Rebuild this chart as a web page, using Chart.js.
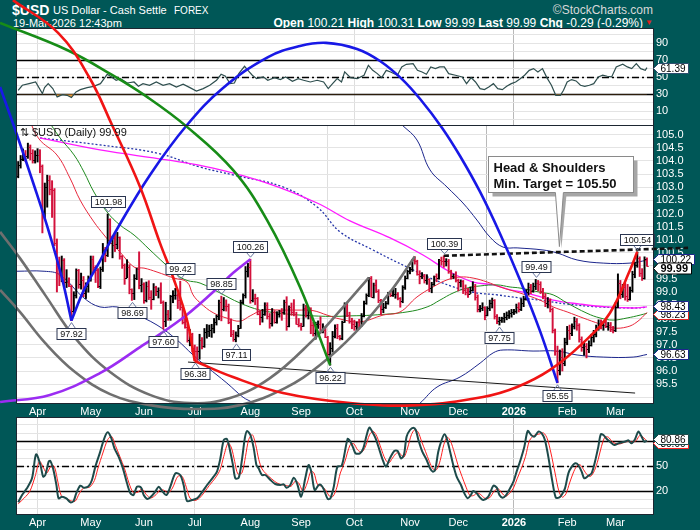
<!DOCTYPE html>
<html lang="en">
<head>
    <meta charset="UTF-8">
    <title>$USD US Dollar - Cash Settle</title>
    <script src="https://cdn.jsdelivr.net/npm/chart.js"></script>
    <style>
        body { margin: 0; background: #005757; overflow: hidden; }
        #page { position: relative; width: 700px; height: 530px; overflow: hidden; background: #005757;
                font-family: "Liberation Sans", Arial, sans-serif; color: #fff; }
        #page canvas { position: absolute; left: 0; top: 0; }
        .hdr { position: absolute; white-space: nowrap; line-height: 1; }
    </style>
</head>
<body>
<div id="page">
    <div class="hdr" style="left:12px; top:3px; font-size:14px; font-weight:bold;">$USD</div>
    <div class="hdr" style="left:53px; top:5px; font-size:11px;">US Dollar - Cash Settle</div>
    <div class="hdr" style="left:174px; top:6px; font-size:10px;">FOREX</div>
    <div class="hdr" style="right:47px; top:4px; font-size:12px; color:#d8d8d8;">©StockCharts.com</div>
    <div class="hdr" style="left:13px; top:18px; font-size:11px;">19-Mar-2026 12:43pm</div>
    <div class="hdr" style="right:57px; top:17px; font-size:12px;"><b>Open</b> 100.21 <b>High</b> 100.31 <b>Low</b> 99.99 <b>Last</b> 99.99 <b>Chg</b> -0.29 (-0.29%)</div>
    <div class="hdr" style="left:645px; top:19px; font-size:8px; color:#e02020;">▼</div>
    <canvas id="rsi-chart" width="700" height="530"></canvas>
    <canvas id="stoch-chart" width="700" height="530"></canvas>
    <canvas id="price-chart" width="700" height="530"></canvas>
</div>
<script>
    // daily bars, 20-Mar-2025 .. 19-Mar-2026 (one per weekday)
    const opens = [
        103.44,103.85,104.09,104.26,104.20,104.55,104.29,104.04,104.21,104.23,
        103.80,102.07,103.02,103.26,102.95,102.89,100.87,100.10,99.65,100.22,
        99.38,99.38,99.23,98.28,98.91,99.84,99.30,99.47,98.98,99.24,
        99.47,100.25,99.96,99.83,99.24,99.88,100.64,100.42,101.79,100.99,
        101.06,100.82,101.09,100.38,100.05,99.56,99.96,99.11,98.98,99.56,
        99.89,99.27,99.33,98.71,99.25,98.80,98.76,99.19,99.05,99.10,
        98.64,97.92,98.18,98.02,98.85,98.90,98.91,98.71,98.42,97.86,
        97.68,97.17,97.40,96.88,96.78,96.76,97.18,96.97,97.49,97.53,
        97.55,97.65,97.85,98.08,98.62,98.37,98.48,98.47,97.87,97.40,
        97.21,97.38,97.65,98.63,98.90,99.80,99.97,98.69,98.78,98.77,
        98.19,98.04,98.18,98.52,98.09,97.84,98.25,97.85,98.17,98.27,
        98.23,98.62,97.72,98.43,98.24,98.17,97.80,97.77,97.72,98.41,
        98.15,98.36,97.77,97.44,97.79,97.80,97.54,97.55,97.30,96.63,
        96.86,97.35,97.65,97.33,97.25,97.87,98.55,98.15,97.90,97.78,
        97.71,97.85,97.72,98.11,98.58,98.88,99.53,98.83,99.27,99.05,
        98.69,98.35,98.43,98.58,98.96,98.89,98.93,98.95,98.78,98.67,
        99.21,99.53,99.80,99.87,100.21,100.20,99.71,99.60,99.60,99.45,
        99.49,99.16,99.30,99.60,99.55,100.22,100.20,100.18,100.20,99.80,
        99.60,99.60,99.45,99.38,99.42,99.10,99.00,98.95,99.10,99.25,
        98.80,98.35,98.40,98.45,98.15,98.40,98.60,98.72,98.10,97.90,
        97.95,98.00,98.05,98.15,98.20,98.25,98.30,98.45,98.35,98.60,
        98.75,99.00,99.20,99.05,99.25,99.35,99.30,99.05,98.85,98.60,
        98.70,98.35,97.55,96.75,96.05,96.55,96.30,97.10,97.55,97.45,
        97.70,97.90,97.75,97.20,96.90,96.95,96.85,97.00,97.30,97.40,
        97.65,97.80,97.75,97.85,97.70,97.75,97.60,97.55,98.45,99.35,
        98.95,99.20,98.85,98.75,99.10,99.70,100.05,100.30,99.75,99.55,
        100.21
    ];
    const highs = [
        103.98,104.21,104.46,104.40,104.68,104.61,104.43,104.39,104.47,104.43,
        103.85,103.16,103.46,103.44,103.25,102.95,101.03,100.34,100.38,100.28,
        99.86,99.55,99.27,99.02,99.89,99.87,99.73,99.60,99.36,99.62,
        100.38,100.38,100.01,99.90,99.96,100.86,100.71,101.98,101.80,101.14,
        101.23,101.28,101.11,100.40,100.08,100.24,100.05,99.13,99.67,99.92,
        100.54,99.52,99.36,99.39,99.44,99.06,99.33,99.23,99.17,99.36,
        98.67,98.62,98.31,98.88,99.06,99.15,98.95,99.42,98.46,98.03,
        97.79,97.58,97.44,96.99,96.92,97.40,97.27,97.62,97.77,97.75,
        97.78,98.00,98.13,98.70,98.85,98.80,98.71,98.55,97.99,97.55,
        97.49,97.74,98.70,98.94,99.98,100.10,100.26,99.10,98.93,98.80,
        98.30,98.35,98.60,98.60,98.19,98.38,98.30,98.26,98.31,98.38,
        98.70,98.83,98.48,98.59,98.72,98.24,98.00,97.82,98.55,98.50,
        98.43,98.41,97.86,97.86,97.91,98.06,97.80,97.66,97.32,97.08,
        97.51,97.76,97.78,97.36,97.90,98.60,98.62,98.24,98.01,97.94,
        97.87,97.97,98.19,98.66,98.94,99.56,99.60,99.35,99.47,99.10,
        98.73,98.58,98.65,99.00,99.05,99.11,99.15,98.99,98.80,99.25,
        99.62,99.84,99.95,100.25,100.36,100.22,99.82,99.75,99.68,99.67,
        99.52,99.38,99.62,99.70,100.25,100.34,100.39,100.28,100.25,99.84,
        99.70,99.78,99.50,99.47,99.45,99.28,99.15,99.20,99.40,99.30,
        98.90,98.50,98.60,98.45,98.45,98.70,98.78,98.72,98.15,98.05,
        98.05,98.20,98.25,98.30,98.35,98.35,98.55,98.60,98.75,98.85,
        99.10,99.35,99.30,99.35,99.49,99.45,99.40,99.15,98.95,98.80,
        98.75,98.40,97.60,96.95,96.80,96.85,97.25,97.70,97.75,97.80,
        98.05,98.00,97.80,97.30,97.10,97.05,97.15,97.40,97.55,97.75,
        97.95,97.95,97.90,98.00,97.85,97.85,97.70,98.60,99.70,99.45,
        99.30,99.35,99.30,99.20,99.80,100.15,100.54,100.35,99.90,100.35,
        100.31
    ];
    const lows = [
        103.36,103.73,104.01,103.98,104.10,104.04,103.92,103.92,103.96,103.55,
        101.26,101.80,102.24,102.71,101.85,100.77,99.01,99.25,99.40,99.18,
        99.18,99.21,97.92,98.15,98.78,99.15,99.12,98.83,98.76,99.00,
        99.42,99.74,99.37,99.17,99.14,99.79,100.16,100.36,100.85,100.31,
        100.55,100.66,100.26,99.91,99.30,99.55,98.94,98.69,98.72,99.48,
        99.13,99.01,98.58,98.63,98.72,98.35,98.71,98.87,98.78,98.57,
        97.60,97.69,97.93,97.93,98.60,98.73,98.38,98.32,97.79,97.63,
        97.10,96.96,96.72,96.38,96.40,96.45,96.84,96.90,97.25,97.31,
        97.28,97.45,97.75,97.95,97.91,98.29,98.28,97.80,97.31,97.13,
        97.11,97.30,97.62,98.56,98.78,99.58,98.58,98.63,98.53,98.14,
        97.76,97.86,98.12,97.98,97.63,97.71,97.82,97.82,98.05,97.93,
        98.16,97.55,97.68,98.12,98.10,97.78,97.68,97.55,97.70,98.05,
        97.98,97.42,97.33,97.21,97.62,97.45,97.45,97.27,96.56,96.22,
        96.72,97.26,97.23,97.18,97.19,97.85,98.07,97.82,97.61,97.55,
        97.52,97.60,97.70,98.06,98.54,98.83,98.82,98.78,98.99,98.60,
        98.14,98.22,98.38,98.54,98.83,98.84,98.77,98.71,98.43,98.60,
        99.11,99.51,99.70,99.79,100.07,99.65,99.32,99.52,99.35,99.30,
        99.02,98.98,99.26,99.40,99.50,100.03,99.95,100.00,99.72,99.50,
        99.52,99.39,99.05,99.20,98.95,98.90,98.80,98.95,99.05,98.70,
        98.25,98.25,98.30,97.95,98.10,98.30,98.40,97.98,97.80,97.75,
        97.85,97.85,97.95,98.00,98.05,98.15,98.20,98.25,98.30,98.45,
        98.70,98.90,98.95,99.00,99.10,99.05,98.95,98.75,98.45,98.40,
        98.25,97.45,96.60,95.55,95.85,96.00,96.20,97.00,97.20,97.35,
        97.60,97.55,97.10,96.75,96.60,96.50,96.70,96.95,97.10,97.30,
        97.55,97.60,97.55,97.65,97.55,97.50,97.45,97.50,98.40,98.75,
        98.80,98.70,98.65,98.70,99.00,99.55,99.95,99.60,99.45,99.50,
        99.99
    ];
    const closes = [
        103.85,104.09,104.26,104.20,104.55,104.29,104.04,104.21,104.23,103.80,
        102.07,103.02,103.26,102.95,102.89,100.87,100.10,99.65,100.22,99.38,
        99.38,99.23,98.28,98.91,99.84,99.30,99.47,98.98,99.24,99.47,
        100.25,99.96,99.83,99.24,99.88,100.64,100.42,101.79,100.99,101.06,
        100.82,101.09,100.38,100.05,99.56,99.96,99.11,98.98,99.56,99.89,
        99.27,99.33,98.71,99.25,98.80,98.76,99.19,99.05,99.10,98.64,
        97.92,98.18,98.02,98.85,98.90,98.91,98.71,98.42,97.86,97.68,
        97.17,97.40,96.88,96.78,96.76,97.18,96.97,97.49,97.53,97.55,
        97.65,97.85,98.08,98.62,98.37,98.48,98.47,97.87,97.40,97.21,
        97.38,97.65,98.63,98.90,99.80,99.97,98.69,98.78,98.77,98.19,
        98.04,98.18,98.52,98.09,97.84,98.25,97.85,98.17,98.27,98.23,
        98.62,97.72,98.43,98.24,98.17,97.80,97.77,97.72,98.41,98.15,
        98.36,97.77,97.44,97.79,97.80,97.54,97.55,97.30,96.63,96.86,
        97.35,97.65,97.33,97.25,97.87,98.55,98.15,97.90,97.78,97.71,
        97.85,97.72,98.11,98.58,98.88,99.53,98.83,99.27,99.05,98.69,
        98.35,98.43,98.58,98.96,98.89,98.93,98.95,98.78,98.67,99.21,
        99.53,99.80,99.87,100.21,100.20,99.71,99.60,99.60,99.45,99.49,
        99.16,99.30,99.60,99.55,100.22,100.20,100.18,100.20,99.80,99.60,
        99.60,99.45,99.38,99.42,99.10,99.00,98.95,99.10,99.25,98.80,
        98.35,98.40,98.45,98.15,98.40,98.60,98.72,98.10,97.90,97.95,
        98.00,98.05,98.15,98.20,98.25,98.30,98.45,98.35,98.60,98.75,
        99.00,99.20,99.05,99.25,99.35,99.30,99.05,98.85,98.60,98.70,
        98.35,97.55,96.75,96.05,96.55,96.30,97.10,97.55,97.45,97.70,
        97.90,97.75,97.20,96.90,96.95,96.85,97.00,97.30,97.40,97.65,
        97.80,97.75,97.85,97.70,97.75,97.60,97.55,98.45,99.35,98.95,
        99.20,98.85,98.75,99.10,99.70,100.05,100.30,99.75,99.55,100.28,
        99.99
    ];

    // overlays: [bar index, value]
    const maFast = [[4,105.7],[8.6,104.84],[16,104.23],[21.4,103.35],[25.6,102.51],[31.3,101.68],[35.5,101.18],[38,100.91],[42.1,100.53],[47.9,99.96],[52,99.92],[57.4,99.77],[64.4,99.54],[69.8,99.39],[72.3,98.9],[75.2,98.6],[80.6,98.22],[86.8,98.0],[91.7,97.9],[95.9,98.1],[101.2,98.32],[108.3,98.32],[115.3,98.32],[121.9,98.3],[127.7,98.13],[133.1,97.98],[141.4,97.87],[150.9,98.13],[157.9,98.25],[164.9,98.82],[171.5,99.2],[177.3,99.47],[182.7,99.58],[188.1,99.54],[193.9,99.39],[199.3,99.2],[207.5,98.97],[215.8,98.7],[221.2,98.44],[227,98.25],[233.6,98.02],[240.6,97.79],[246,97.64],[251.8,97.68],[255.9,97.87],[260,98.23]];
    const maMid = [[12,105.6],[17.3,104.88],[23.1,104.23],[27.2,103.58],[31.3,102.82],[36.7,102.06],[42.1,101.56],[47.9,101.18],[54.5,100.61],[60.3,100.11],[65.7,99.66],[69.8,99.45],[75.2,99.35],[83.5,98.97],[91.7,98.59],[100,98.32],[108.3,98.2],[116.5,98.13],[128.9,98.08],[137.2,98.1],[146.7,98.13],[160.8,98.25],[169.1,98.44],[174.4,98.7],[179.8,98.97],[185.6,99.16],[191,99.24],[198,99.28],[203.4,99.2],[207.5,99.16],[215.8,99.0],[221.2,98.9],[227,98.59],[235.2,98.2],[240.6,98.02],[246,97.94],[251.8,98.02],[257.2,98.13],[260,98.2]];
    const maSlow = [[9,104.88],[33.8,104.42],[61.5,104.04],[80.6,103.73],[102.9,103.16],[123.6,102.4],[137.2,101.72],[153.8,101.07],[167.4,100.42],[178.6,99.77],[188.1,99.39],[196.4,99.28],[203.4,99.09],[210.4,98.97],[221.2,98.7],[232.3,98.55],[243.5,98.44],[254.3,98.4],[260,98.44]];
    const bandMid = [[9,104.88],[33.8,104.61],[57.4,104.3],[75.2,103.77],[88.8,103.47],[109.5,103.01],[123.6,102.25],[133.1,101.3],[146.7,100.61],[160.8,99.96],[174.4,99.39],[188.1,99.0],[198,98.9],[207.5,98.78],[215.8,98.7],[227,98.55],[240.6,98.44],[254.3,98.4],[260,98.43]];
    const bandUpper = [[155.8,105.6],[159.1,105.34],[164.9,104.8],[170.3,103.66],[177.3,103.01],[183.9,102.4],[189.7,101.75],[195.1,101.1],[200.5,100.72],[206.3,100.69],[217,100.61],[222.8,100.5],[231.1,100.23],[241.9,100.11],[253,100.11],[260,100.22]];
    const bandLower = [[-0.5,99.8],[10.7,99.8],[17.3,99.66],[27.2,98.78],[33.8,98.44],[40.9,98.44],[47.5,98.2],[57.4,97.75],[65.7,97.18],[72.3,96.61],[78.1,96.15],[86.3,95.54],[93,95.0],[97.1,94.78],[101.2,94.4],[130,null],[162,94.5],[166.2,94.78],[173.2,95.39],[182.7,95.77],[191,96.3],[196.4,96.69],[200.5,96.8],[212.9,96.76],[222.8,96.76],[231.1,96.61],[241.9,96.53],[254.3,96.53],[260,96.63]];

    const rsiPoints = [[0,34.7],[1.7,40.6],[4.5,42.5],[7.2,44.5],[10,30.8],[10.9,37.8],[12.4,42.5],[14.3,36.7],[16.1,26.9],[18.3,29.6],[20.2,28.8],[22,26.1],[23.9,32.7],[25.7,35.5],[28.5,37.8],[31.2,39.4],[34,42.5],[36.8,53.5],[38.6,50.4],[40.5,46.5],[42.3,48.4],[45.1,43.3],[47.9,44.5],[49.7,39.4],[51.6,42.5],[54.3,40.6],[57.1,44.5],[59.9,40.6],[62.6,42.5],[65.4,38.6],[68.2,41.8],[71,37.8],[73.7,33.9],[76.5,36.7],[79.2,40.6],[82,46.5],[83.9,53.5],[85.7,51.2],[87.6,42.5],[89.4,43.3],[91.2,54.3],[93.6,62.9],[95,58.2],[96.8,52.4],[98.6,48.4],[101.4,50.4],[103.2,46.5],[106,49.6],[108.4,47.3],[110.6,50.4],[113.4,45.3],[115.8,48.4],[118,46.5],[120.8,44.5],[123.6,46.5],[126.3,44.5],[128.2,36.7],[130,42.5],[131.9,48.4],[133.7,44.5],[135,56.3],[137.4,49.6],[140.2,48.4],[143,52.4],[144.8,64.1],[146.6,58.2],[148.5,54.3],[150.3,49.6],[152.2,58.2],[154,56.3],[156.8,52.4],[158.6,62.2],[160.5,65.3],[163.3,66.1],[165.1,58.2],[167,56.3],[168.8,53.5],[170.6,62.2],[172.5,60.2],[174.3,62.2],[176.2,62.2],[178,54.3],[180.8,52.4],[183.6,50.4],[185.4,42.5],[187.3,49.6],[189.1,44.5],[191,36.7],[192.8,35.5],[194.6,38.6],[196.5,42.5],[198.3,36.7],[200.2,35.5],[202,39.4],[203.9,42.5],[205.7,44.5],[207.6,48.4],[209.4,52.4],[211.3,58.2],[213.1,60.2],[214.9,56.3],[216.8,60.2],[218.6,49.6],[220.5,40.6],[222.3,28.8],[224.2,28.8],[225.5,34.7],[227,44.5],[228.8,47.3],[230.7,45.7],[232.5,40.6],[234.3,39.4],[236.2,40.6],[238,42.5],[239.9,50.4],[241.7,52.4],[243.6,51.2],[245.4,50.4],[247.3,62.2],[250,65.3],[251.9,62.2],[253.7,60.2],[255.6,66.1],[257.4,60.2],[259.3,58.2],[260,61.39]];

    const stochK = [[0,6.8],[1.6,15.6],[3.6,23.6],[5.7,35.6],[7.4,64.4],[9.2,51.6],[10.3,37.6],[11.2,39.6],[12.6,55.6],[13.3,56.4],[14.4,47.6],[15.8,27.6],[16.7,11.6],[18.1,13.6],[19.9,11.6],[21.6,6.8],[22.9,8.4],[24,17.6],[25.7,26.8],[27.1,24.4],[29.1,26],[30.5,33.6],[31.9,49.6],[33.7,65.6],[35.6,83.6],[37,90.8],[38.4,84.4],[39.8,71.6],[41.5,61.6],[43.3,47.6],[45,29.6],[46.4,17.6],[47.7,15.6],[49.1,25.6],[50.8,24.4],[51.9,15.6],[53.5,10.8],[55.3,14.8],[56.7,19.6],[58.1,25.6],[59.5,20.4],[61.3,15.6],[62.9,25.6],[65,41.6],[67,39.6],[68.4,27.6],[69.8,8.4],[71.9,9.6],[74,11.6],[76,18.8],[78.1,27.6],[80.8,37.6],[82.2,43.6],[83.6,59.6],[85,81.6],[86.3,82.8],[87.7,67.6],[88.8,51.6],[89.8,35.6],[91.2,36.4],[92.6,59.6],[93.7,83.6],[94.6,92.4],[96,87.6],[97.4,71.6],[98.5,51.6],[99.4,47.6],[100.8,39.6],[102.2,39.6],[104.3,33.6],[106.3,28.8],[108.4,27.6],[109.8,28.4],[110.9,24.4],[112.5,27.6],[113.9,36.4],[115.3,29.6],[117,13.6],[118.7,35.6],[120.1,51.6],[121.2,43.6],[122.6,21.6],[124.3,27.6],[125.2,27.6],[126.3,22.8],[128,10.8],[129.1,11.6],[130.5,25.6],[132,49.6],[133.8,50.8],[136.2,82.8],[137.2,80.4],[138.6,71.6],[139.5,65.6],[141.3,65.6],[142.7,71.6],[144.1,87.6],[145.2,96.4],[146.4,91.6],[147.8,83.6],[149.6,67.6],[151,55.6],[152.1,49.6],[153.7,59.6],[155.5,68.4],[156.9,68.4],[158.3,59.6],[159.5,63.6],[160.6,85.6],[162,93.6],[163.4,96.4],[164.4,93.6],[165.5,81.6],[167.1,67.6],[168.9,57.6],[170.3,47.6],[171.4,43.6],[172.4,45.6],[173.7,67.6],[175.1,81.6],[176.2,88.4],[177.2,83.6],[178.6,67.6],[179.9,51.6],[181.3,37.6],[183.1,27.6],[184.5,17.6],[185.9,11.6],[187.2,15.6],[188.2,20.4],[189.6,17.6],[191,12.4],[192.3,9.6],[194.4,13.6],[196.5,26.8],[197.9,24.4],[199,15.6],[200.3,12.4],[201.6,14.8],[203,21.6],[204.8,31.6],[206.1,43.6],[207.5,55.6],[209.3,73.6],[210.7,92.4],[212.1,87.6],[213.4,85.6],[215.1,91.6],[216.5,89.6],[217.8,81.6],[219.2,61.6],[220.9,31.6],[222.3,12.4],[223.6,12.4],[224.7,15.6],[226.1,23.6],[227.5,41.6],[228.9,49.6],[230.3,53.6],[231.6,51.6],[233,43.6],[234.1,35.6],[235.8,38.8],[237.1,41.6],[238.5,55.6],[239.9,73.6],[240.9,88.4],[242,87.6],[243.4,82.8],[244.7,79.6],[246.5,75.6],[248.2,77.6],[249.8,78.8],[251.6,80.4],[252.3,81.2],[253.7,77.6],[255.1,82.8],[256.4,91.6],[257.6,86.8],[258.9,79.6],[260,80.86]];
    const stochD = [[0,5],[2.5,12],[4.8,20],[7,38],[8.8,56],[10.5,48],[11.8,42],[13.5,50],[14.9,50],[16.5,30],[17.8,15],[19.5,12],[21.5,9],[23.5,8],[25.2,17],[27,24],[29.5,25],[31.5,33],[33,48],[35,66],[37,82],[38.6,86],[40.2,75],[42,62],[44,47],[45.8,30],[47.5,19],[49.5,19],[51.2,23],[53,16],[54.8,12],[57,16],[58.8,22],[60.5,21],[62,18],[63.8,24],[66,38],[67.8,38],[69.5,25],[71,12],[73,9],[75,12],[77,19],[79,27],[81.5,36],[83.5,46],[85,62],[86.8,78],[88.2,72],[89.5,56],[90.8,41],[92.5,42],[94,62],[95.3,82],[96.8,88],[98.2,76],[99.5,58],[100.8,47],[102.5,41],[104.8,35],[107,30],[109,28],[111,27],[112.8,26],[114.5,32],[116,30],[117.8,20],[119.5,30],[121,44],[122.3,42],[123.8,28],[125.5,26],[127,22],[128.8,14],[130.2,14],[131.8,25],[133.2,42],[135,55],[137.3,76],[138.8,77],[140.3,70],[142,67],[143.5,73],[145.3,88],[146.8,92],[148.3,86],[150,72],[151.7,59],[153.2,54],[154.8,60],[156.5,66],[158,65],[159.5,61],[161,72],[162.6,88],[164,94],[165.4,91],[166.8,80],[168.4,68],[170,56],[171.5,47],[173,46],[174.5,57],[176,76],[177.4,85],[178.8,80],[180.3,67],[181.8,52],[183.5,38],[185.2,25],[186.8,15],[188.3,15],[189.8,18],[191.3,16],[192.8,12],[194.8,12],[196.8,20],[198.5,23],[200,18],[201.5,14],[203,17],[204.8,24],[206.3,35],[208,47],[209.8,62],[211.3,80],[212.8,86],[214.2,88],[215.8,89],[217.3,90],[218.8,83],[220.3,66],[222,42],[223.6,20],[225,13],[226.5,17],[228,30],[229.5,42],[230.9,50],[232.3,52],[233.8,46],[235.2,40],[236.7,38],[238.3,45],[239.8,58],[241.2,74],[242.6,85],[244,85],[245.5,80],[247.2,77],[249,77],[250.8,79],[252.5,80],[254.2,79],[255.6,81],[257,87],[258.4,85],[260,80]];

    // hand-drawn annotations, in [bar index, price]
    const redArcLeft = [[-2.2,110.13],[16.5,108.88],[29.3,107.2],[38.8,105.37],[50.4,103.01],[58.6,100.88],[64,99.58],[69.8,97.94],[73,96.38]];
    const redArcRight = [[73,96.38],[88.8,95.77],[109.5,95.16],[137.2,94.78],[164.9,94.7],[192.2,95.01],[206.3,95.39],[219.9,96.04],[233.6,97.07],[244.7,98.21],[253,99.85],[256,100.54]];
    const greenArc = [[-7.5,109.26],[20.2,108.23],[38.8,107.28],[53.3,106.44],[69.8,105.3],[88.8,103.66],[102.9,101.75],[116.5,99.2],[129,96.22]];
    const blueLine = [[-7.5,106.82],[-0.5,104.99],[6.9,102.97],[13.1,101.18],[18.1,99.54],[22,97.92]];
    const blueArch = [[22,97.92],[27.2,99.09],[33.8,100.19],[40.9,101.41],[54.5,103.47],[69.8,105.37],[84.7,106.78],[103.3,107.96],[116.5,108.38],[127.3,108.5],[140.1,108.27],[149.6,107.81],[158.7,107.12],[166.2,106.36],[175.3,105.26],[182.7,104.19],[191,102.82],[199.3,101.22],[207.5,99.47],[215.8,97.52],[223,95.55]];
    const purpleArc = [[-7.5,94.82],[13.1,95.09],[33.8,95.92],[50.4,96.91],[66.9,97.94],[80.6,99.01],[88.8,99.73],[96,100.26]];
    const grayArcInner = [[-7.5,101.3],[0.7,100.3],[11.1,98.9],[23.5,97.26],[38,95.96],[54.5,95.09],[71,94.78],[87.6,94.97],[104.1,95.73],[120.7,97.07],[135.1,98.51],[145,99.56]];
    const grayArcOuter = [[-7.5,99.09],[0.7,98.25],[11.1,97.07],[23.5,95.96],[38,95.12],[54.5,94.7],[73.1,94.55],[91.7,94.7],[110.3,95.35],[124.8,96.23],[139.3,97.45],[153.8,99.01],[164,100.36]];
    const trendLine = [[70.2,96.34],[255.1,95.16]];
    const neckline = [[176,100.39],[277,100.69]];

    // price flags on swing highs (H) and lows (L)
    const markIdx = [22, 37, 47, 60, 67, 73, 84, 90, 96, 129, 176, 199, 214, 223, 256];
    const markSide = ['L', 'H', 'L', 'L', 'H', 'L', 'H', 'L', 'H', 'L', 'H', 'L', 'H', 'L', 'H'];
    const calloutText = ['Head & Shoulders', 'Min. Target = 105.50'];
    const calloutAt = { left: 194.4, right: 254.1, top: 104.19, bottom: 102.83, tipX: 223.8, tipY: 100.74 };

    const family = '"Liberation Sans", Arial, Helvetica, sans-serif';
    Chart.defaults.font.family = family;
    Chart.defaults.elements.line.capBezierPoints = false;

    // weekdays only
    const tradingDays = [];
    for (let d = new Date(Date.UTC(2025, 2, 20)); d <= new Date(Date.UTC(2026, 2, 19)); d.setUTCDate(d.getUTCDate() + 1)) {
        if (d.getUTCDay() % 6 !== 0) tradingDays.push(new Date(d));
    }
    const monthNames = ['Jan', 'Feb', 'Mar', 'Apr', 'May', 'Jun', 'Jul', 'Aug', 'Sep', 'Oct', 'Nov', 'Dec'];
    const monthStarts = [];
    tradingDays.forEach((d, i) => {
        if (i > 0 && d.getUTCMonth() !== tradingDays[i - 1].getUTCMonth()) monthStarts.push(i);
    });
    const isJan = i => tradingDays[i] && tradingDays[i].getUTCMonth() === 0;
    const monthLabel = i => tradingDays[i] ? (isJan(i) ? String(tradingDays[i].getUTCFullYear()) : monthNames[tradingDays[i].getUTCMonth()]) : '';
    const quarterLine = i => tradingDays[i] && tradingDays[i].getUTCMonth() % 3 === 0;

    const xMin = -0.5, xMax = closes.length + 1.5;
    const pts = pairs => pairs.map(([x, y]) => ({ x, y }));
    const last = pairs => pairs[pairs.length - 1][1];
    const barColors = closes.map((c, i) => (i === 0 || c >= closes[i - 1]) ? '#000000' : '#d3123c');

    function timeAxis(showLabels) {
        return {
            type: 'linear',
            offset: false,
            bounds: 'data',
            afterDataLimits: s => { s.min = xMin; s.max = xMax; },
            afterBuildTicks: s => { s.min = xMin; s.max = xMax; s.ticks = monthStarts.map(v => ({ value: v })); },
            afterFit: s => { s.height = showLabels ? 15 : 0; },
            grid: {
                drawTicks: false,
                color: c => (c.tick && quarterLine(c.tick.value)) ? (isJan(c.tick.value) ? '#b9b9b9' : '#dedede') : 'rgba(0,0,0,0)'
            },
            border: { display: false },
            ticks: {
                display: showLabels, autoSkip: false, maxRotation: 0, padding: 2, color: '#ffffff',
                font: c => ({ size: 11, weight: (c.tick && isJan(c.tick.value)) ? 'bold' : 'normal' }),
                callback: v => monthLabel(v)
            }
        };
    }

    // right-hand value axis with ticks on whole multiples of the step
    function valueAxis(min, max, step, labelFn) {
        return {
            position: 'right', min, max, bounds: 'data',
            afterBuildTicks: s => {
                s.min = min; s.max = max;
                const ticks = [];
                for (let k = Math.ceil(min / step); k * step <= max + 1e-9; k++) {
                    ticks.push({ value: Math.round(k * step * 100) / 100 });
                }
                s.ticks = ticks;
            },
            afterFit: s => { s.width = 47; },
            grid: { color: '#e4e4e4', drawTicks: false },
            border: { display: false },
            ticks: { autoSkip: false, padding: 3, color: '#ffffff', font: { size: 11 }, callback: labelFn }
        };
    }

    function panel(levels) {
        return {
            id: 'panel',
            beforeDraw(chart) {
                const { ctx, chartArea: a } = chart;
                ctx.save();
                ctx.fillStyle = '#ffffff';
                ctx.fillRect(a.left, a.top, a.width, a.height);
                ctx.restore();
            },
            beforeDatasetsDraw(chart) {
                const { ctx, chartArea: a } = chart;
                const ys = chart.scales.y;
                const draw = (v, dash) => {
                    const y = Math.round(ys.getPixelForValue(v)) + 0.5;
                    ctx.setLineDash(dash);
                    ctx.beginPath(); ctx.moveTo(a.left, y); ctx.lineTo(a.right, y); ctx.stroke();
                };
                ctx.save();
                ctx.strokeStyle = '#000000';
                ctx.lineWidth = 1.3;
                (levels.solid || []).forEach(v => draw(v, []));
                (levels.dashDot || []).forEach(v => draw(v, [7, 3, 2, 3]));
                ctx.restore();
            },
            afterDraw(chart) {
                const { ctx, chartArea: a } = chart;
                ctx.save();
                ctx.strokeStyle = '#1d2631';
                ctx.lineWidth = 1;
                ctx.strokeRect(a.left - 0.5, a.top - 0.5, a.width + 1, a.height + 1);
                ctx.restore();
            }
        };
    }

    // last-value tags on the right axis; crowded tags are nudged apart a little
    function valueTags(items, spread) {
        return {
            id: 'valueTags',
            afterDraw(chart) {
                const { ctx, chartArea } = chart;
                const ys = chart.scales.y;
                const tags = items.map(item => ({ item, y: ys.getPixelForValue(item.value), h: item.bold ? 11 : 10 }));
                const byY = tags.slice().sort((p, q) => p.y - q.y);
                for (let pass = 0; pass < 3; pass++) {
                    for (let j = 1; j < byY.length; j++) {
                        const p = byY[j - 1], q = byY[j];
                        const need = (p.h + q.h) / 2 * spread;
                        if (q.y - p.y < need) {
                            const d = (need - (q.y - p.y)) / 2;
                            p.y -= d; q.y += d;
                        }
                    }
                }
                tags.forEach(({ item, y: yRaw, h }) => {
                    const y = Math.round(yRaw) + 0.5;
                    const x0 = chartArea.right + 0.5;
                    const txt = item.value.toFixed(2);
                    ctx.save();
                    ctx.font = (item.bold ? 'bold 11px ' : '10px ') + family;
                    const w = Math.round(ctx.measureText(txt).width) + 5;
                    ctx.beginPath();
                    ctx.moveTo(x0, y);
                    ctx.lineTo(x0 + 5, y - h / 2);
                    ctx.lineTo(x0 + 5 + w, y - h / 2);
                    ctx.lineTo(x0 + 5 + w, y + h / 2);
                    ctx.lineTo(x0 + 5, y + h / 2);
                    ctx.closePath();
                    ctx.fillStyle = '#ffffff'; ctx.fill();
                    ctx.strokeStyle = item.color; ctx.lineWidth = 1; ctx.stroke();
                    ctx.fillStyle = '#000000'; ctx.textAlign = 'left'; ctx.textBaseline = 'middle';
                    ctx.fillText(txt, x0 + 7, y + 0.5);
                    ctx.restore();
                });
            }
        };
    }

    const ohlcTicks = {
        id: 'ohlcTicks',
        afterDatasetDraw(chart, args) {
            if (!chart.data.datasets[args.index].ohlc) return;
            const { ctx, chartArea: a } = chart;
            const xs = chart.scales.x, ys = chart.scales.y;
            ctx.save();
            ctx.beginPath(); ctx.rect(a.left, a.top, a.width, a.height); ctx.clip();
            ctx.lineWidth = 1;
            closes.forEach((c, i) => {
                const x = xs.getPixelForValue(i);
                const yo = Math.round(ys.getPixelForValue(opens[i])) + 0.5;
                const yc = Math.round(ys.getPixelForValue(c)) + 0.5;
                ctx.strokeStyle = barColors[i];
                ctx.beginPath();
                ctx.moveTo(x - 1.8, yo); ctx.lineTo(x, yo);
                ctx.moveTo(x, yc); ctx.lineTo(x + 1.8, yc);
                ctx.stroke();
            });
            ctx.restore();
        }
    };

    const markLabels = {
        id: 'markLabels',
        afterDatasetsDraw(chart) {
            const { ctx } = chart;
            const xs = chart.scales.x, ys = chart.scales.y;
            ctx.save();
            ctx.font = '9px ' + family;
            ctx.textAlign = 'center';
            ctx.textBaseline = 'middle';
            ctx.lineWidth = 1;
            markIdx.forEach((i, k) => {
                const high = markSide[k] === 'H';
                const v = high ? highs[i] : lows[i];
                const txt = v.toFixed(2);
                const x = Math.round(xs.getPixelForValue(i)) + 0.5;
                const y = ys.getPixelForValue(v);
                const w = Math.round(ctx.measureText(txt).width) + 6, h = 11;
                const tip = high ? y - 2 : y + 2;
                const edge = Math.round(high ? y - 7 : y + 7) + 0.5;
                const top = high ? edge - h : edge;
                ctx.strokeStyle = '#6a78a0';
                ctx.beginPath(); ctx.moveTo(x - 4, edge); ctx.lineTo(x, tip); ctx.lineTo(x + 4, edge); ctx.stroke();
                ctx.fillStyle = '#ffffff';
                ctx.fillRect(x - w / 2, top, w, h);
                ctx.strokeStyle = '#2a3550';
                ctx.strokeRect(x - w / 2, top, w, h);
                ctx.fillStyle = '#111111';
                ctx.fillText(txt, x, top + h / 2 + 0.5);
            });
            ctx.restore();
        }
    };

    const callout = {
        id: 'callout',
        afterDatasetsDraw(chart) {
            const { ctx, chartArea: a } = chart;
            const xs = chart.scales.x, ys = chart.scales.y;
            const l = Math.round(xs.getPixelForValue(calloutAt.left)) + 0.5;
            const r = Math.round(xs.getPixelForValue(calloutAt.right)) + 0.5;
            const t = Math.round(ys.getPixelForValue(calloutAt.top)) + 0.5;
            const b = Math.round(ys.getPixelForValue(calloutAt.bottom)) + 0.5;
            const tx = xs.getPixelForValue(calloutAt.tipX), ty = ys.getPixelForValue(calloutAt.tipY);
            ctx.save();
            ctx.fillStyle = '#a6a6a6';
            ctx.fillRect(l + 4, t + 4, r - l, b - t);
            ctx.beginPath(); ctx.moveTo(tx - 1, b + 3); ctx.lineTo(tx + 2, ty + 2); ctx.lineTo(tx + 7, b + 3); ctx.closePath(); ctx.fill();
            ctx.fillStyle = '#ffffff';
            ctx.strokeStyle = '#8a8a8a';
            ctx.lineWidth = 1;
            ctx.fillRect(l, t, r - l, b - t);
            ctx.strokeRect(l, t, r - l, b - t);
            ctx.beginPath(); ctx.moveTo(tx - 4, b - 0.5); ctx.lineTo(tx, ty); ctx.lineTo(tx + 4, b - 0.5); ctx.closePath(); ctx.fill();
            ctx.beginPath(); ctx.moveTo(tx - 4, b); ctx.lineTo(tx, ty); ctx.lineTo(tx + 4, b); ctx.stroke();
            ctx.fillStyle = '#111111';
            ctx.font = 'bold 13px ' + family;
            ctx.textAlign = 'left';
            ctx.textBaseline = 'alphabetic';
            calloutText.forEach((s, k) => ctx.fillText(s, l + 5, t + 15 + k * 16));
            // chart legend
            ctx.font = '11px ' + family;
            ctx.textBaseline = 'middle';
            ctx.fillText('⇅', a.left + 3, a.top + 7);
            ctx.fillText('$USD (Daily) ' + closes[closes.length - 1].toFixed(2), a.left + 15, a.top + 7);
            ctx.restore();
        }
    };

    const arc = (pairs, color, width, dash) => ({
        type: 'line', data: pts(pairs), borderColor: color, borderWidth: width, borderDash: dash || [],
        pointRadius: 0, tension: 0.4, clip: false, fill: false, order: 0
    });
    const overlay = (pairs, color, width, dash) => ({
        type: 'line', data: pts(pairs), borderColor: color, borderWidth: width, borderDash: dash || [],
        pointRadius: 0, tension: 0.4, fill: false, spanGaps: false, order: 3
    });

    new Chart(document.getElementById('price-chart'), {
        type: 'line',
        data: {
            datasets: [
                arc(redArcLeft, '#f01414', 2.6),
                arc(redArcRight, '#f01414', 2.6),
                arc(greenArc, '#178c17', 2.6),
                arc(blueLine, '#1818e6', 2.6),
                arc(blueArch, '#1818e6', 2.6),
                arc(purpleArc, '#9b2cf2', 2.6),
                arc(grayArcInner, '#6f6f6f', 2.6),
                arc(grayArcOuter, '#6f6f6f', 2.6),
                arc(neckline, '#111111', 2.6, [5, 3]),
                Object.assign(arc(trendLine, '#1a1a1a', 1), { tension: 0, order: 1 }),
                {
                    type: 'bar', ohlc: true, order: 2,
                    data: closes.map((c, i) => ({ x: i, y: [lows[i], highs[i]] })),
                    backgroundColor: barColors, borderWidth: 0, barThickness: 1.3
                },
                overlay(maFast, '#e8283c', 1),
                overlay(maMid, '#1f8a1f', 1),
                overlay(maSlow, '#ff1aff', 1.3),
                overlay(bandMid, '#2434a8', 1.3, [2, 2]),
                overlay(bandUpper, '#1c268c', 1),
                overlay(bandLower, '#1c268c', 1)
            ]
        },
        options: {
            responsive: false, animation: false, events: [],
            layout: { padding: { left: 17, right: 0, top: 126, bottom: 112 } },
            scales: {
                x: timeAxis(true),
                y: valueAxis(94.781, 105.333, 0.5, v => v < 95.25 ? '' : v.toFixed(1))
            },
            plugins: { legend: { display: false }, tooltip: { enabled: false } }
        },
        plugins: [
            panel({}), ohlcTicks, markLabels, callout,
            valueTags([
                { value: last(maFast), color: '#e02020' },
                { value: last(bandMid), color: '#1c268c' },
                { value: last(bandLower), color: '#1c268c' },
                { value: last(bandUpper), color: '#1c268c' },
                { value: closes[closes.length - 1], color: '#000000', bold: true }
            ], 0.85)
        ]
    });

    new Chart(document.getElementById('rsi-chart'), {
        type: 'line',
        data: {
            datasets: [{
                data: pts(rsiPoints), borderColor: '#2e4e4e', borderWidth: 1.2, pointRadius: 0, tension: 0,
                fill: { target: { value: 30 }, above: 'rgba(0,0,0,0)', below: '#e99a3a' }
            }]
        },
        options: {
            responsive: false, animation: false, events: [],
            layout: { padding: { left: 17, right: 0, top: 29, bottom: 404 } },
            scales: {
                x: timeAxis(false),
                y: valueAxis(-7.3, 106.8, 10, v => [10, 30, 50, 70, 90].includes(Math.round(v)) ? String(Math.round(v)) : '')
            },
            plugins: { legend: { display: false }, tooltip: { enabled: false } }
        },
        plugins: [
            panel({ solid: [70, 30], dashDot: [50] }),
            valueTags([{ value: last(rsiPoints), color: '#2e4e6e' }], 1)
        ]
    });

    new Chart(document.getElementById('stoch-chart'), {
        type: 'line',
        data: {
            datasets: [
                { data: pts(stochK), borderColor: '#1d4a4a', borderWidth: 2, pointRadius: 0, tension: 0.3 },
                { data: pts(stochD), borderColor: '#ff2020', borderWidth: 1, pointRadius: 0, tension: 0.3 }
            ]
        },
        options: {
            responsive: false, animation: false, events: [],
            layout: { padding: { left: 17, right: 0, top: 418, bottom: 1 } },
            scales: {
                x: timeAxis(true),
                y: valueAxis(-7.2, 108, 10, v => [20, 50, 80].includes(Math.round(v)) ? String(Math.round(v)) : '')
            },
            plugins: { legend: { display: false }, tooltip: { enabled: false } }
        },
        plugins: [
            panel({ solid: [80, 20], dashDot: [50] }),
            valueTags([
                { value: last(stochD), color: '#ff2020' },
                { value: last(stochK), color: '#1d4a4a' }
            ], 0.45)
        ]
    });
</script>
</body>
</html>
